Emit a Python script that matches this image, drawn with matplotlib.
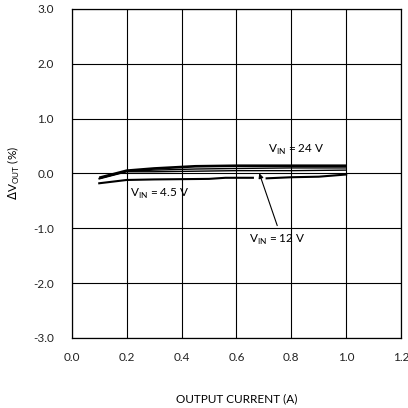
import numpy as np
import matplotlib
matplotlib.use("Agg")
import matplotlib.pyplot as plt

plt.rcParams['font.family'] = ['Lato', 'DejaVu Sans']

# Output current (A)
current = [0.10, 0.20, 0.30, 0.45, 0.60, 0.80, 1.00]

# Delta Vout (%) for each input voltage
vout_24v = [-0.08, 0.05, 0.09, 0.13, 0.14, 0.14, 0.14]
vout_mid = [-0.09, 0.04, 0.06, 0.08, 0.09, 0.10, 0.10]
vout_12v = [-0.10, 0.03, 0.03, 0.04, 0.05, 0.05, 0.06]

# 4.5 V curve has a small break around 0.7 A
current_45 = [0.10, 0.20, 0.30, 0.50, 0.56, 0.66, np.nan, 0.71, 0.80, 0.90, 1.00]
vout_45v = [-0.18, -0.12, -0.11, -0.10, -0.08, -0.08, np.nan, -0.09, -0.07, -0.06, -0.02]

x_ticks = [0.0, 0.2, 0.4, 0.6, 0.8, 1.0, 1.2]
y_ticks = [-3.0, -2.0, -1.0, 0.0, 1.0, 2.0, 3.0]

fig = plt.figure(figsize=(4.08, 4.08), dpi=100)
ax = fig.add_axes([0.176, 0.172, 0.807, 0.806])

ax.plot(current, vout_24v, color='black', lw=1.9, solid_capstyle='butt')
ax.plot(current, vout_mid, color='black', lw=1.0)
ax.plot(current, vout_12v, color='black', lw=1.0)
ax.plot(current_45, vout_45v, color='black', lw=1.5)

ax.set_xlim(0, 1.2)
ax.set_ylim(-3, 3)
ax.set_xticks(x_ticks)
ax.set_yticks(y_ticks)
ax.set_xticklabels([f"{v:.1f}" for v in x_ticks])
ax.set_yticklabels([f"{v:.1f}" for v in y_ticks])
ax.tick_params(length=0, labelsize=8.5, colors='#222222')
ax.tick_params(axis='y', pad=13)
ax.tick_params(axis='x', pad=10)
ax.grid(True, color='black', lw=0.8)
ax.set_axisbelow(True)
for s in ax.spines.values():
    s.set_color('black')
    s.set_linewidth(0.9)

ax.set_xlabel('OUTPUT CURRENT (A)', fontsize=8.5, labelpad=22)
ax.set_ylabel(r'$\Delta$V$_{\mathregular{OUT}}$ (%)', fontsize=8.5, labelpad=8)

ax.text(0.716, 0.43, r'V$_{\mathregular{IN}}$ = 24 V', fontsize=8.5, va='center')
ax.text(0.213, -0.38, r'V$_{\mathregular{IN}}$ = 4.5 V', fontsize=8.5, va='center')
ax.text(0.646, -1.22, r'V$_{\mathregular{IN}}$ = 12 V', fontsize=8.5, va='center')
ax.annotate('', xy=(0.68, 0.05), xytext=(0.752, -1.0),
            arrowprops=dict(arrowstyle='-|>', color='black', lw=0.8,
                            mutation_scale=7))

fig.savefig('out.png', dpi=100)
